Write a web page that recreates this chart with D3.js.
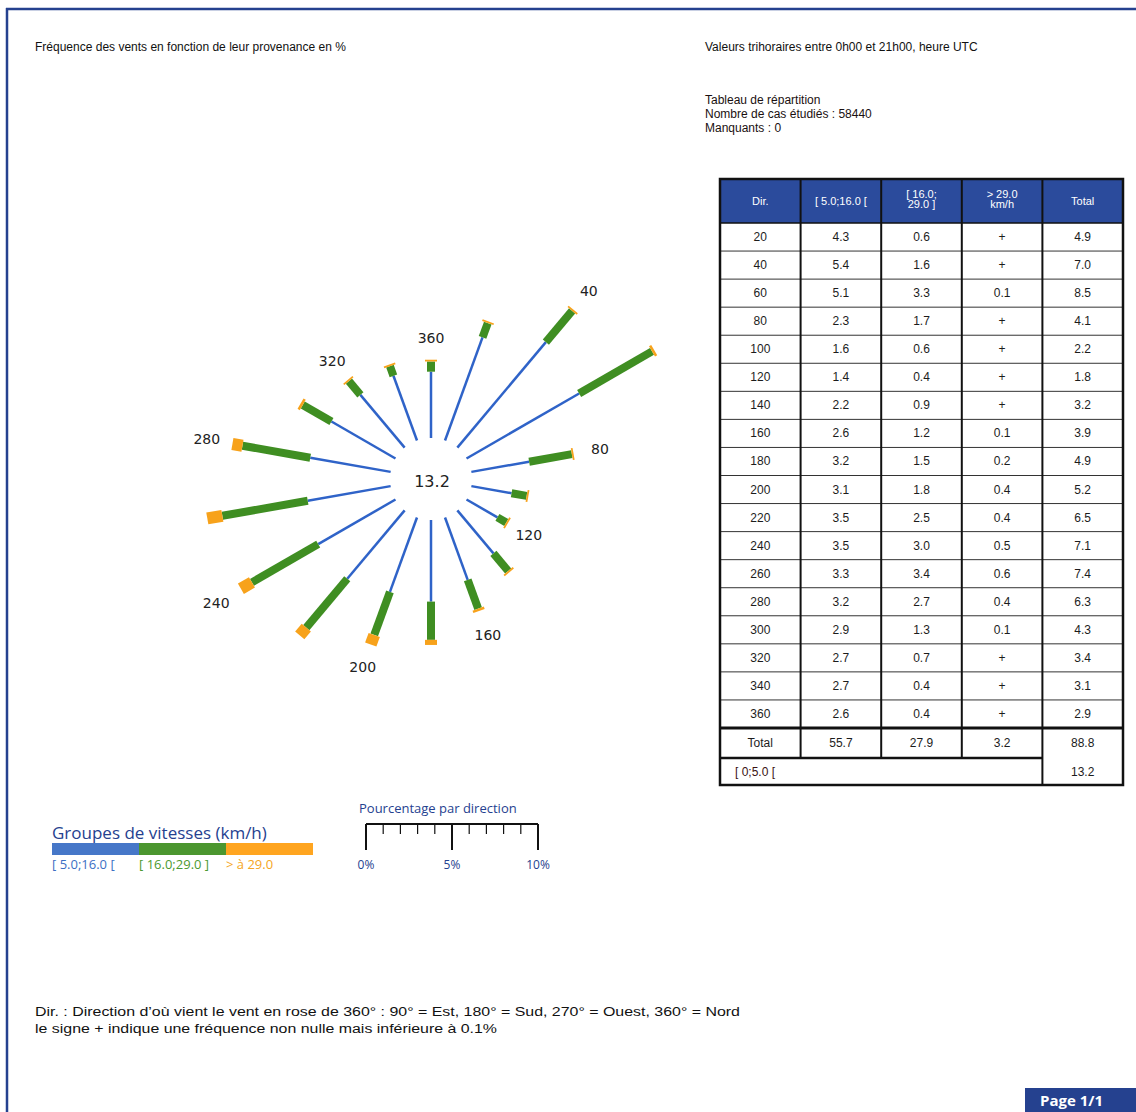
<!DOCTYPE html>
<html>
<head>
<meta charset="utf-8">
<script src="https://cdn.jsdelivr.net/npm/d3@7"></script>
<style>
  body { margin: 0; background: #fff; }
  svg { display: block; font-family: "Liberation Sans", Arial, sans-serif; }
</style>
</head>
<body>
<script>
// directions (degrees, clockwise from north)
var directions = [20, 40, 60, 80, 100, 120, 140, 160, 180, 200, 220, 240, 260, 280, 300, 320, 340, 360];
// frequencies in % per speed group
var speedLow  = [4.3, 5.4, 5.1, 2.3, 1.6, 1.4, 2.2, 2.6, 3.2, 3.1, 3.5, 3.5, 3.3, 3.2, 2.9, 2.7, 2.7, 2.6];
var speedMid  = [0.6, 1.6, 3.3, 1.7, 0.6, 0.4, 0.9, 1.2, 1.5, 1.8, 2.5, 3.0, 3.4, 2.7, 1.3, 0.7, 0.4, 0.4];
var speedHigh = ['+', '+', 0.1, '+', '+', '+', '+', 0.1, 0.2, 0.4, 0.4, 0.5, 0.6, 0.4, 0.1, '+', '+', '+'];
var totals    = [4.9, 7.0, 8.5, 4.1, 2.2, 1.8, 3.2, 3.9, 4.9, 5.2, 6.5, 7.1, 7.4, 6.3, 4.3, 3.4, 3.1, 2.9];
var columnTotals = ['55.7', '27.9', '3.2', '88.8'];
var calmLabel = '[ 0;5.0 [';
var calmValue = 13.2;
var labelledDirections = [40, 80, 120, 160, 200, 240, 280, 320, 360];
var headerLabels = [['Dir.'], ['[ 5.0;16.0 ['], ['[ 16.0;', '29.0 ]'], ['> 29.0', 'km/h'], ['Total']];
var legendGroups = ['[ 5.0;16.0 [', '[ 16.0;29.0 ]', '> à 29.0'];
var scaleTicks = [0, 5, 10];

var PLUS = 0.07; // drawn length of a "+" frequency

var colors = { low: '#2f63c8', mid: '#3f8e22', high: '#f7a21b' };
var legendColors = ['#4677c8', '#4b962f', '#ffa520'];
var legendTextColors = ['#3c6fc4', '#4c9a30', '#f5a623'];
var navy = '#25418f';

var svg = d3.select('body').append('svg')
    .attr('width', 1136).attr('height', 1112);

// page frame
svg.append('line').attr('x1', 7).attr('x2', 7).attr('y1', 8).attr('y2', 1112)
    .attr('stroke', navy).attr('stroke-width', 2.5);
svg.append('line').attr('x1', 6).attr('x2', 1136).attr('y1', 9).attr('y2', 9)
    .attr('stroke', navy).attr('stroke-width', 2.5);

// header texts
svg.append('text').attr('x', 35).attr('y', 51).attr('font-size', 12).attr('fill', '#111')
    .text('Fréquence des vents en fonction de leur provenance en %');
svg.append('text').attr('x', 705).attr('y', 51).attr('font-size', 12).attr('fill', '#111')
    .text('Valeurs trihoraires entre 0h00 et 21h00, heure UTC');
var info = ['Tableau de répartition', 'Nombre de cas étudiés : 58440', 'Manquants : 0'];
svg.append('g').selectAll('text').data(info).enter().append('text')
    .attr('x', 705).attr('y', function(d, i){ return 104 + i * 14; })
    .attr('font-size', 12).attr('fill', '#1a1010')
    .text(function(d){ return d; });

/*
 * wind rose
 */
var cx = 431, cy = 479, innerR = 41;
var r = d3.scaleLinear().domain([0, 10]).range([0, 255]);

function pt(dir, rad){
    var a = dir * Math.PI / 180;
    return [cx + rad * Math.sin(a), cy - rad * Math.cos(a)];
}

var rose = svg.append('g');
var segs = [];
directions.forEach(function(dir, i){
    var hi = speedHigh[i] === '+' ? PLUS : speedHigh[i];
    var r1 = innerR + r(speedLow[i]);
    var r2 = r1 + r(speedMid[i]);
    var r3 = r2 + r(hi);
    segs.push({ dir: dir, a: innerR, b: r1, c: colors.low, w: 2.5 });
    segs.push({ dir: dir, a: r1, b: r2, c: colors.mid, w: 8 });
    segs.push({ dir: dir, a: r2, b: r3, c: colors.high, w: 12 });
});

rose.selectAll('line').data(segs).enter().append('line')
    .attr('x1', function(d){ return pt(d.dir, d.a)[0]; })
    .attr('y1', function(d){ return pt(d.dir, d.a)[1]; })
    .attr('x2', function(d){ return pt(d.dir, d.b)[0]; })
    .attr('y2', function(d){ return pt(d.dir, d.b)[1]; })
    .attr('stroke', function(d){ return d.c; })
    .attr('stroke-width', function(d){ return d.w; });

rose.selectAll('text.dir').data(labelledDirections).enter().append('text')
    .attr('class', 'dir')
    .attr('x', function(d){ return pt(d, innerR + r(totals[directions.indexOf(d)]) + 26)[0]; })
    .attr('y', function(d){ return pt(d, innerR + r(totals[directions.indexOf(d)]) + 26)[1]; })
    .attr('text-anchor', 'middle').attr('dominant-baseline', 'central')
    .attr('font-family', 'DejaVu Sans, Verdana, sans-serif')
    .attr('font-size', 14).attr('fill', '#222')
    .text(function(d){ return d; });

rose.append('text').attr('x', cx + 1).attr('y', cy + 2)
    .attr('text-anchor', 'middle').attr('dominant-baseline', 'central')
    .attr('font-family', 'DejaVu Sans, Verdana, sans-serif')
    .attr('font-size', 16).attr('fill', '#222')
    .text(calmValue.toFixed(1));

/*
 * table
 */
var colX = d3.scaleBand().domain(d3.range(5)).range([720, 1123]);
var rowY = d3.scaleBand().domain(directions).range([223, 728]);
var tTop = 179, tHead = 223, tTotal = 758, tBottom = 785;
var table = svg.append('g');

table.append('rect').attr('x', 720).attr('y', tTop).attr('width', 403).attr('height', tHead - tTop)
    .attr('fill', '#2b4b9c');

var rows = directions.map(function(d, i){
    return [d, speedLow[i].toFixed(1), speedMid[i].toFixed(1),
        speedHigh[i] === '+' ? '+' : speedHigh[i].toFixed(1), totals[i].toFixed(1)];
});

// row separators
table.selectAll('line.row').data(directions.slice(1)).enter().append('line')
    .attr('x1', 720).attr('x2', 1123)
    .attr('y1', function(d){ return rowY(d); }).attr('y2', function(d){ return rowY(d); })
    .attr('stroke', '#333').attr('stroke-width', 1);
table.append('line').attr('x1', 720).attr('x2', 1123).attr('y1', tHead).attr('y2', tHead)
    .attr('stroke', '#111').attr('stroke-width', 1.5);
table.append('line').attr('x1', 720).attr('x2', 1123).attr('y1', 728).attr('y2', 728)
    .attr('stroke', '#111').attr('stroke-width', 3);
table.append('line').attr('x1', 720).attr('x2', colX(4)).attr('y1', tTotal).attr('y2', tTotal)
    .attr('stroke', '#111').attr('stroke-width', 2.5);

// column separators
table.selectAll('line.col').data([1, 2, 3]).enter().append('line')
    .attr('x1', function(d){ return colX(d); }).attr('x2', function(d){ return colX(d); })
    .attr('y1', tTop).attr('y2', tTotal)
    .attr('stroke', '#111').attr('stroke-width', 2);
table.append('line').attr('x1', colX(4)).attr('x2', colX(4)).attr('y1', tTop).attr('y2', tBottom)
    .attr('stroke', '#111').attr('stroke-width', 2);
table.append('rect').attr('x', 720).attr('y', tTop).attr('width', 403).attr('height', tBottom - tTop)
    .attr('fill', 'none').attr('stroke', '#111').attr('stroke-width', 2.5);

// header text
var head = table.selectAll('g.head').data(headerLabels).enter().append('g');
head.selectAll('text').data(function(d){ return d; }).enter().append('text')
    .attr('x', function(){ return colX(headerLabels.indexOf(d3.select(this.parentNode).datum())) + colX.bandwidth() / 2; })
    .attr('y', function(d, i, nodes){ return nodes.length === 1 ? 205 : 198 + i * 10; })
    .attr('text-anchor', 'middle').attr('font-size', 11).attr('fill', '#fff')
    .text(function(d){ return d; });

// body text
rows.forEach(function(row, i){
    table.append('g').selectAll('text').data(row).enter().append('text')
        .attr('x', function(d, j){ return colX(j) + colX.bandwidth() / 2; })
        .attr('y', rowY(directions[i]) + rowY.bandwidth() / 2 + 4)
        .attr('text-anchor', 'middle').attr('font-size', 12).attr('fill', '#1c1c1c')
        .text(function(d){ return d; });
});
table.append('g').selectAll('text').data(['Total'].concat(columnTotals)).enter().append('text')
    .attr('x', function(d, j){ return colX(j) + colX.bandwidth() / 2; })
    .attr('y', 747)
    .attr('text-anchor', 'middle').attr('font-size', 12).attr('fill', '#1c1c1c')
    .text(function(d){ return d; });
table.append('text').attr('x', 735).attr('y', 776).attr('font-size', 12).attr('fill', '#3a1212')
    .text(calmLabel);
table.append('text').attr('x', colX(4) + colX.bandwidth() / 2).attr('y', 776)
    .attr('text-anchor', 'middle').attr('font-size', 12).attr('fill', '#1c1c1c')
    .text(calmValue.toFixed(1));

/*
 * speed legend
 */
var leg = svg.append('g').attr('font-family', '"Open Sans", "DejaVu Sans", sans-serif');
leg.append('text').attr('x', 52).attr('y', 839).attr('font-size', 17).attr('fill', navy)
    .text('Groupes de vitesses (km/h)');
var legX = d3.scaleBand().domain(d3.range(3)).range([52, 313]);
leg.selectAll('rect').data(legendGroups).enter().append('rect')
    .attr('x', function(d, i){ return legX(i); }).attr('y', 843)
    .attr('width', legX.bandwidth()).attr('height', 12)
    .attr('fill', function(d, i){ return legendColors[i]; });
leg.selectAll('text.grp').data(legendGroups).enter().append('text')
    .attr('class', 'grp')
    .attr('x', function(d, i){ return legX(i); }).attr('y', 869)
    .attr('font-size', 13).attr('fill', function(d, i){ return legendTextColors[i]; })
    .text(function(d){ return d; });

/*
 * percentage ruler
 */
var scaleX = d3.scaleLinear().domain([0, 10]).range([366, 538]);
var ruler = svg.append('g').attr('font-family', '"Open Sans", "DejaVu Sans", sans-serif');
ruler.append('text').attr('x', 359).attr('y', 813).attr('font-size', 13).attr('fill', navy)
    .text('Pourcentage par direction');
ruler.append('line').attr('x1', scaleX(0)).attr('x2', scaleX(10)).attr('y1', 824).attr('y2', 824)
    .attr('stroke', '#111').attr('stroke-width', 2);
ruler.selectAll('line.tick').data(d3.range(0, 11)).enter().append('line')
    .attr('x1', function(d){ return scaleX(d); }).attr('x2', function(d){ return scaleX(d); })
    .attr('y1', 824).attr('y2', function(d){ return d % 5 === 0 ? 850 : 834; })
    .attr('stroke', '#111').attr('stroke-width', function(d){ return d % 5 === 0 ? 2 : 1.2; });
ruler.selectAll('text.lbl').data(scaleTicks).enter().append('text')
    .attr('x', function(d){ return scaleX(d); }).attr('y', 869)
    .attr('text-anchor', 'middle').attr('font-size', 12).attr('fill', navy)
    .text(function(d){ return d + '%'; });

// footnotes (stretched to the width they take in the original)
var notes = ['Dir. : Direction d\u2019où vient le vent en rose de 360° : 90° = Est, 180° = Sud, 270° = Ouest, 360° = Nord',
    'le signe + indique une fréquence non nulle mais inférieure à 0.1%'];
var noteWidths = [705, 462];
svg.append('g').selectAll('text').data(notes).enter().append('text')
    .attr('x', 35).attr('y', function(d, i){ return 1016 + i * 17; })
    .attr('font-size', 12.5).attr('fill', '#111')
    .attr('textLength', function(d, i){ return noteWidths[i]; })
    .attr('lengthAdjust', 'spacingAndGlyphs')
    .text(function(d){ return d; });

// page box
svg.append('rect').attr('x', 1025).attr('y', 1088).attr('width', 111).attr('height', 24)
    .attr('fill', navy);
svg.append('text').attr('x', 1040).attr('y', 1106).attr('font-size', 15).attr('font-weight', 'bold')
    .attr('fill', '#fff').attr('font-family', '"Open Sans", sans-serif')
    .text('Page 1/1');
</script>
</body>
</html>
